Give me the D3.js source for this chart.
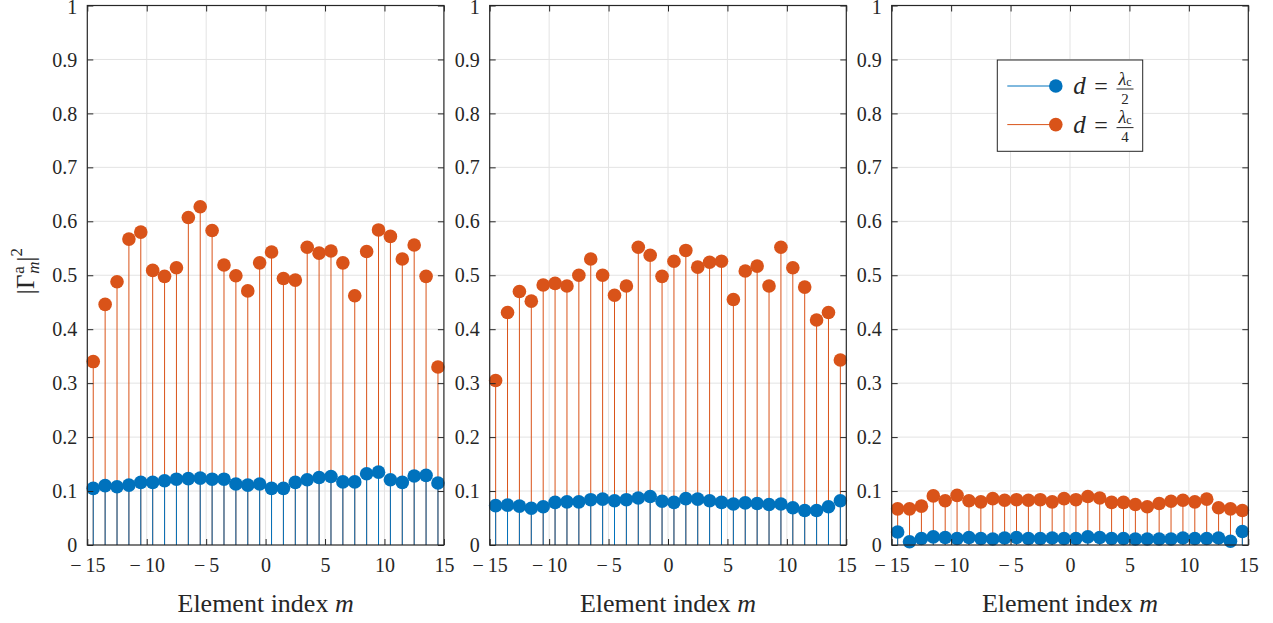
<!DOCTYPE html>
<html>
<head>
<meta charset="utf-8">
<script src="https://cdn.jsdelivr.net/npm/d3@7/dist/d3.min.js"></script>
<style>
  html, body { margin: 0; padding: 0; background: #fff; }
  svg { display: block; }
  text { font-family: "Liberation Serif", "DejaVu Serif", serif; fill: #262626; }
</style>
</head>
<body>
<svg id="chart" width="1273" height="623"></svg>
<script>
// ---------------- data ----------------
const elementIndex = [-14.5,-13.5,-12.5,-11.5,-10.5,-9.5,-8.5,-7.5,-6.5,-5.5,-4.5,-3.5,-2.5,-1.5,-0.5,
                      0.5,1.5,2.5,3.5,4.5,5.5,6.5,7.5,8.5,9.5,10.5,11.5,12.5,13.5,14.5];
const xTickValues = [-15,-10,-5,0,5,10,15];
const yTickValues = [0,0.1,0.2,0.3,0.4,0.5,0.6,0.7,0.8,0.9,1];
const legendDenominators = ["2", "4"];

// panel 1
const panel1Half = [0.105,0.110,0.108,0.111,0.116,0.116,0.119,0.122,0.123,0.124,0.122,0.122,0.113,0.111,0.113,
                    0.105,0.105,0.116,0.121,0.125,0.127,0.117,0.117,0.132,0.135,0.121,0.116,0.128,0.129,0.115];
const panel1Quarter = [0.340,0.446,0.488,0.567,0.580,0.509,0.498,0.514,0.607,0.627,0.583,0.519,0.499,0.471,0.523,
                       0.543,0.494,0.491,0.552,0.541,0.545,0.523,0.462,0.544,0.584,0.572,0.530,0.556,0.498,0.330];
// panel 2
const panel2Half = [0.073,0.074,0.072,0.068,0.071,0.079,0.080,0.080,0.084,0.085,0.082,0.084,0.087,0.090,0.081,
                    0.079,0.086,0.085,0.082,0.079,0.076,0.078,0.077,0.075,0.076,0.069,0.064,0.064,0.071,0.082];
const panel2Quarter = [0.305,0.431,0.470,0.452,0.482,0.485,0.480,0.500,0.530,0.500,0.463,0.480,0.552,0.537,0.498,
                       0.526,0.546,0.515,0.524,0.526,0.455,0.508,0.517,0.480,0.552,0.514,0.478,0.417,0.431,0.343];
// panel 3
const panel3Half = [0.024,0.006,0.012,0.015,0.014,0.012,0.014,0.012,0.011,0.013,0.014,0.012,0.012,0.013,0.012,
                    0.012,0.015,0.014,0.012,0.012,0.011,0.011,0.011,0.011,0.013,0.012,0.012,0.013,0.007,0.025];
const panel3Quarter = [0.067,0.067,0.072,0.091,0.082,0.092,0.082,0.080,0.086,0.083,0.084,0.083,0.084,0.080,0.086,
                       0.084,0.090,0.087,0.079,0.079,0.075,0.071,0.077,0.081,0.083,0.080,0.085,0.069,0.067,0.064];

const panels = [
  { half: panel1Half, quarter: panel1Quarter, legend: false },
  { half: panel2Half, quarter: panel2Quarter, legend: false },
  { half: panel3Half, quarter: panel3Quarter, legend: true }
];

// ---------------- layout ----------------
const BLUE = "#0072BD", ORANGE = "#D95319";
const panelLeft = [87.3, 489.7, 891.7];
const panelW = 356.6;
const plotTop = 5.5, plotBottom = 545;
const markerR = 6.8;
const tickLen = 6;
const axisColor = "#262626";

const svg = d3.select("#chart");
const y = d3.scaleLinear().domain([0, 1]).range([plotBottom, plotTop]);

panels.forEach((p, pi) => {
  const x = d3.scaleLinear().domain([-15, 15]).range([panelLeft[pi], panelLeft[pi] + panelW]);
  const g = svg.append("g");

  g.append("rect").attr("x", x(-15)).attr("y", plotTop).attr("width", panelW).attr("height", plotBottom - plotTop)
    .attr("fill", "#fff");

  // grid
  g.append("g").selectAll("line").data(yTickValues.slice(1, -1)).join("line")
    .attr("x1", x(-15)).attr("x2", x(15)).attr("y1", d => y(d)).attr("y2", d => y(d))
    .attr("stroke", "#e3e3e3").attr("stroke-width", 1);
  g.append("g").selectAll("line").data(xTickValues.slice(1, -1)).join("line")
    .attr("y1", plotTop).attr("y2", plotBottom).attr("x1", d => x(d)).attr("x2", d => x(d))
    .attr("stroke", "#e3e3e3").attr("stroke-width", 1);

  const drawStems = (vals, color) => {
    g.append("g").selectAll("line").data(vals).join("line")
      .attr("x1", (d, i) => x(elementIndex[i])).attr("x2", (d, i) => x(elementIndex[i]))
      .attr("y1", y(0)).attr("y2", d => y(d))
      .attr("stroke", color).attr("stroke-width", 1);
  };
  const drawMarkers = (vals, color) => {
    g.append("g").selectAll("circle").data(vals).join("circle")
      .attr("cx", (d, i) => x(elementIndex[i])).attr("cy", d => y(d))
      .attr("r", markerR).attr("fill", color);
  };
  drawStems(p.quarter, ORANGE);
  drawStems(p.half, BLUE);
  drawMarkers(p.quarter, ORANGE);
  drawMarkers(p.half, BLUE);

  const fmtY = d => d === 0 ? "0" : (d === 1 ? "1" : d3.format(".1f")(d));
  const fmtX = d => d < 0 ? "\u2212\u2009" + Math.abs(d) : String(d);

  const left = g.append("g").attr("transform", `translate(${x(-15)},0)`)
    .call(d3.axisLeft(y).tickValues(yTickValues).tickSize(-tickLen).tickPadding(10).tickFormat(fmtY));
  const right = g.append("g").attr("transform", `translate(${x(15)},0)`)
    .call(d3.axisRight(y).tickValues(yTickValues).tickSize(-tickLen).tickFormat(""));
  const bot = g.append("g").attr("transform", `translate(0,${plotBottom})`)
    .call(d3.axisBottom(x).tickValues(xTickValues).tickSize(-tickLen).tickPadding(13).tickFormat(fmtX));
  const tp = g.append("g").attr("transform", `translate(0,${plotTop})`)
    .call(d3.axisTop(x).tickValues(xTickValues).tickSize(-tickLen).tickFormat(""));
  [left, right, bot, tp].forEach(a => {
    a.select(".domain").remove();
    a.selectAll(".tick line").attr("stroke", axisColor).attr("stroke-width", 1);
    a.selectAll(".tick text").attr("font-size", 20).attr("fill", axisColor)
      .style("font-family", '"Liberation Serif", serif');
  });
  left.selectAll(".tick text").attr("dy", d => d === 1 ? "0.42em" : "0.33em");
  bot.selectAll(".tick text").attr("dy", "0.71em");

  g.append("rect").attr("x", x(-15)).attr("y", plotTop).attr("width", panelW).attr("height", plotBottom - plotTop)
    .attr("fill", "none").attr("stroke", axisColor).attr("stroke-width", 1.2);

  const xl = g.append("text").attr("x", x(0)).attr("y", 611.5).attr("text-anchor", "middle")
    .attr("font-size", 26);
  xl.append("tspan").text("Element index ");
  xl.append("tspan").attr("font-style", "italic").text("m");

  if (p.legend) {
    const lg = g.append("g");
    const lx = 997.3, ly = 60, lw = 145.4, lh = 91.3;
    lg.append("rect").attr("x", lx).attr("y", ly).attr("width", lw).attr("height", lh)
      .attr("fill", "#fff").attr("stroke", "#262626").attr("stroke-width", 1);
    const entries = [
      { color: BLUE, den: legendDenominators[0], cy: 86 },
      { color: ORANGE, den: legendDenominators[1], cy: 124.6 }
    ];
    entries.forEach(e => {
      lg.append("line").attr("x1", lx + 10).attr("x2", lx + 58).attr("y1", e.cy).attr("y2", e.cy)
        .attr("stroke", e.color).attr("stroke-width", 1);
      lg.append("circle").attr("cx", lx + 58.5).attr("cy", e.cy).attr("r", markerR).attr("fill", e.color);
      lg.append("text").attr("x", lx + 76).attr("y", e.cy + 8.3).attr("font-size", 25)
        .attr("font-style", "italic").text("d");
      lg.append("text").attr("x", lx + 97).attr("y", e.cy + 8.3).attr("font-size", 24).text("=");
      const fx = lx + 127.7;
      const num = lg.append("text").attr("x", fx).attr("y", e.cy - 1.5).attr("text-anchor", "middle")
        .attr("font-size", 18);
      num.append("tspan").attr("font-style", "italic").text("λ");
      num.append("tspan").attr("font-size", 12).attr("dy", 1).text("c");
      lg.append("line").attr("x1", fx - 8.5).attr("x2", fx + 8.5).attr("y1", e.cy + 3).attr("y2", e.cy + 3)
        .attr("stroke", "#262626").attr("stroke-width", 1);
      lg.append("text").attr("x", fx).attr("y", e.cy + 17.5).attr("text-anchor", "middle")
        .attr("font-size", 15).text(e.den);
    });
  }
});

// y label |Γ^a_m|^2 rotated
const yl = svg.append("g").attr("transform", "translate(34,271) rotate(-90)");
const ylText = yl.append("text").attr("font-size", 25).attr("x", 0).attr("y", 0);
ylText.append("tspan").text("|Γ");
const base = ylText.node().getComputedTextLength();
const sup = yl.append("text").attr("font-size", 17).attr("x", 0).attr("y", -10).text("a");
const sub = yl.append("text").attr("font-size", 17).attr("x", 0).attr("y", 5).attr("font-style", "italic").text("m");
const scriptW = Math.max(sup.node().getComputedTextLength(), sub.node().getComputedTextLength()) + 1;
const bar = yl.append("text").attr("font-size", 25).attr("y", 0).text("|");
const barW = bar.node().getComputedTextLength();
const two = yl.append("text").attr("font-size", 17).attr("y", -12).text("2");
const twoW = two.node().getComputedTextLength();
const total = base + scriptW + barW + twoW;
const start = -total / 2;
ylText.attr("x", start);
sup.attr("x", start + base + 1);
sub.attr("x", start + base + 1);
bar.attr("x", start + base + scriptW);
two.attr("x", start + base + scriptW + barW);
</script>
</body>
</html>
